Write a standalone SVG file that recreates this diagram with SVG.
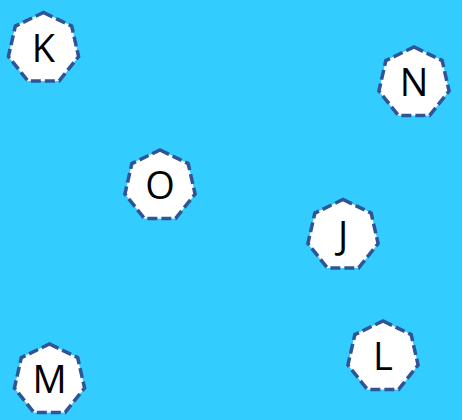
<svg xmlns="http://www.w3.org/2000/svg" xmlns:xlink="http://www.w3.org/1999/xlink" width="462" height="420" viewBox="0 0 462 420">
<style>
.h{fill:#fff;stroke:#2F5597;stroke-width:3.5;stroke-dasharray:10 4}
.t{font-family:"Open Sans","Liberation Sans",sans-serif;font-size:38px;fill:#000;text-anchor:middle}
</style>
<defs>
<polygon id="hept" points="0,-36 28.15,-22.45 35.1,8.01 15.62,32.44 -15.62,32.44 -35.1,8.01 -28.15,-22.45"/>
</defs>
<rect width="462" height="420" fill="#33CCFF"/>
<g id="connectors"/>
<g id="node-K" transform="translate(43.5,48.5)"><use xlink:href="#hept" class="h"/><text class="t" y="13">K</text></g>
<g id="node-N" transform="translate(414,83)"><use xlink:href="#hept" class="h"/><text class="t" y="13">N</text></g>
<g id="node-O" transform="translate(160,186)"><use xlink:href="#hept" class="h"/><text class="t" y="13">O</text></g>
<g id="node-J" transform="translate(343,235.5)"><use xlink:href="#hept" class="h"/><text class="t" y="13">J</text></g>
<g id="node-L" transform="translate(383,357)"><use xlink:href="#hept" class="h"/><text class="t" y="13">L</text></g>
<g id="node-M" transform="translate(49.5,380)"><use xlink:href="#hept" class="h"/><text class="t" y="13">M</text></g>
</svg>
